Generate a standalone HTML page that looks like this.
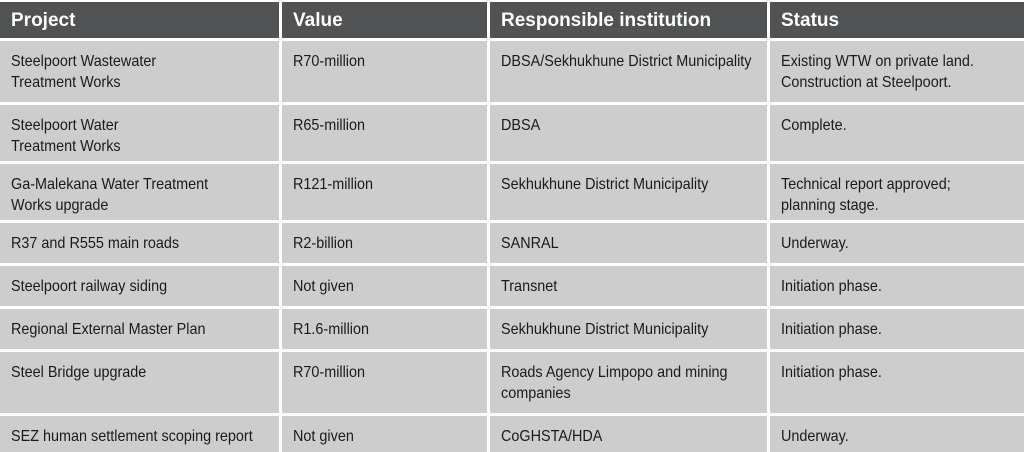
<!DOCTYPE html>
<html><head><meta charset="utf-8"><style>
html,body{margin:0;padding:0;background:#fff;width:1024px;height:452px;overflow:hidden}
.c{position:absolute;background:#cdcdcd;color:#1a1a1a;font-family:"Liberation Sans",sans-serif;font-size:16px;line-height:21px;padding:10px 0 0 11px;box-sizing:border-box;white-space:nowrap}
.c span{display:inline-block;transform:scaleX(0.9);transform-origin:0 0}
.h{background:#505254;color:#fff;font-weight:bold;font-size:19px;padding:8px 0 0 11px}
.h span{transform:none}
</style></head><body>
<div id="t"></div>
<script>
const cols=[[0,279],[282,487],[490,767],[770,1024]];
const rows=[[2,38],[41,102],[105,161],[164,220],[223,263],[266,306],[309,349],[352,413],[416,452]];
const data=[
["Project","Value","Responsible institution","Status"],
["Steelpoort Wastewater<br>Treatment Works","R70-million","DBSA/Sekhukhune District Municipality","Existing WTW on private land.<br>Construction at Steelpoort."],
["Steelpoort Water<br>Treatment Works","R65-million","DBSA","Complete."],
["Ga-Malekana Water Treatment<br>Works upgrade","R121-million","Sekhukhune District Municipality","Technical report approved;<br>planning stage."],
["R37 and R555 main roads","R2-billion","SANRAL","Underway."],
["Steelpoort railway siding","Not given","Transnet","Initiation phase."],
["Regional External Master Plan","R1.6-million","Sekhukhune District Municipality","Initiation phase."],
["Steel Bridge upgrade","R70-million","Roads Agency Limpopo and mining<br>companies","Initiation phase."],
["SEZ human settlement scoping report","Not given","CoGHSTA/HDA","Underway."]];
let h="";
rows.forEach((r,i)=>cols.forEach((c,j)=>{
h+=`<div class="c${i==0?' h':''}" style="left:${c[0]}px;top:${r[0]}px;width:${c[1]-c[0]}px;height:${r[1]-r[0]}px"><span>${data[i][j]}</span></div>`;}));
document.getElementById("t").innerHTML=h;
</script>
</body></html>
